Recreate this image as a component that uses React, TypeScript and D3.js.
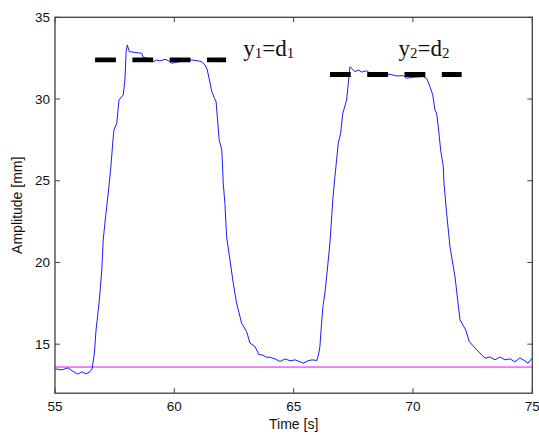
import React from "react";
import * as d3 from "d3";

const TIME = [
  55.0, 55.29, 55.54, 55.71, 55.96, 56.13, 56.3, 56.47, 56.56, 56.65, 56.72, 56.86, 56.96, 57.02, 57.12,
  57.23, 57.33, 57.43, 57.47, 57.59, 57.68, 57.86, 57.93, 57.98, 58.03, 58.11, 58.35, 58.63, 58.7, 58.85,
  58.98, 59.12, 59.26, 59.4, 59.61, 59.75, 59.89, 60.1, 60.38, 60.73, 61.01, 61.15, 61.29, 61.38, 61.47,
  61.57, 61.68, 61.75, 61.8, 61.88, 61.99, 62.05, 62.12, 62.19, 62.33, 62.47, 62.61, 62.82, 63.03, 63.17,
  63.38, 63.55, 63.67, 63.87, 64.01, 64.22, 64.43, 64.64, 64.85, 65.06, 65.27, 65.4, 65.6, 65.77, 65.97,
  66.04, 66.1, 66.17, 66.23, 66.31, 66.41, 66.52, 66.64, 66.73, 66.87, 66.97, 67.06, 67.22, 67.29, 67.36,
  67.43, 67.57, 67.7, 67.86, 68.06, 68.2, 68.62, 69.04, 69.32, 69.59, 69.74, 70.01, 70.43, 70.57, 70.71,
  70.83, 70.92, 70.99, 71.06, 71.16, 71.27, 71.3, 71.41, 71.55, 71.76, 71.97, 72.21, 72.36, 72.67, 73.02,
  73.23, 73.44, 73.65, 73.86, 74.07, 74.27, 74.48, 74.69, 74.82, 75.0,
];

const AMPLITUDE = [
  13.49, 13.43, 13.55, 13.37, 13.17, 13.31, 13.18, 13.31, 13.53, 14.45, 15.87, 17.71, 19.54, 21.38, 22.8,
  24.24, 25.66, 27.5, 28.11, 28.52, 29.94, 30.25, 31.17, 32.9, 33.31, 32.9, 32.85, 32.8, 32.55, 32.51,
  32.39, 32.28, 32.39, 32.33, 32.43, 32.35, 32.19, 32.25, 32.33, 32.39, 32.33, 32.28, 32.08, 31.78, 31.17,
  30.45, 30.05, 29.84, 28.92, 27.5, 26.88, 24.85, 23.62, 21.58, 20.16, 18.73, 17.51, 16.28, 15.77, 15.06,
  14.85, 14.35, 14.35, 14.2, 14.2, 14.1, 13.94, 14.1, 13.98, 14.04, 13.92, 13.84, 13.98, 14.04, 14.0,
  14.35, 14.85, 16.28, 17.34, 18.12, 19.54, 21.18, 23.83, 25.25, 27.29, 27.91, 29.13, 29.94, 30.96, 31.98,
  31.88, 31.67, 31.78, 31.65, 31.73, 31.57, 31.47, 31.51, 31.41, 31.43, 31.27, 31.33, 31.37, 31.27, 30.76,
  30.25, 29.33, 29.13, 28.31, 26.88, 25.86, 24.85, 23.01, 20.97, 19.13, 16.49, 15.87, 15.16, 14.65, 14.14,
  14.22, 14.04, 14.22, 14.04, 14.1, 13.92, 14.16, 13.98, 13.84, 14.16,
];

const BASELINE = 13.6;

// dashed level lines: [level, start time, end time]
const LEVELS = [
  { level: 32.4, t0: 56.68, t1: 62.17 },
  { level: 31.5, t0: 66.52, t1: 72.04 },
];

const LABELS = [
  { sub: "1", t: 62.89, a: 32.62 },
  { sub: "2", t: 69.39, a: 32.62 },
];

const X_TICKS = [55, 60, 65, 70, 75];
const Y_TICKS = [15, 20, 25, 30, 35];
const X_DOMAIN = [55, 75];
const Y_DOMAIN = [12, 35];

export default function App() {
  const W = 539;
  const H = 435;
  const left = 55;
  const right = 532.3;
  const top = 17.3;
  const bottom = 393.2;

  const x = d3.scaleLinear().domain(X_DOMAIN).range([left, right]);
  const y = d3.scaleLinear().domain(Y_DOMAIN).range([bottom, top]);

  const pts = TIME.map((t, i) => [t, AMPLITUDE[i]] as [number, number]);
  const line = d3
    .line<[number, number]>()
    .x((d) => x(d[0]))
    .y((d) => y(d[1]));

  const axisColor = "#404040";
  const tick = 5;
  const sans = "'Liberation Sans', Arial, sans-serif";
  const serif = "'Liberation Serif', 'DejaVu Serif', serif";

  return (
    <svg
      width={W}
      height={H}
      style={{ position: "absolute", left: 0, top: 0, background: "#fff" }}
    >
      <rect x={0} y={0} width={W} height={H} fill="#fff" />
      {/* baseline */}
      <line
        x1={x(X_DOMAIN[0])}
        x2={x(X_DOMAIN[1])}
        y1={y(BASELINE)}
        y2={y(BASELINE)}
        stroke="#ff00ff"
        strokeWidth={1}
      />
      {/* signal */}
      <path d={line(pts) || ""} fill="none" stroke="#1a1aff" strokeWidth={1} strokeLinejoin="round" />
      {/* dashed levels */}
      {LEVELS.map((l, i) => (
        <line
          key={i}
          x1={x(l.t0)}
          x2={x(l.t1)}
          y1={y(l.level)}
          y2={y(l.level)}
          stroke="#000"
          strokeWidth={4.8}
          strokeDasharray="20.8 16.5"
        />
      ))}
      {/* labels */}
      {LABELS.map((lb, i) => (
        <text key={i} x={x(lb.t)} y={y(lb.a)} fontFamily={serif} fontSize={23} fill="#111">
          y
          <tspan fontSize={15} dy={2}>
            {lb.sub}
          </tspan>
          <tspan dy={-2}>=d</tspan>
          <tspan fontSize={15} dy={2}>
            {lb.sub}
          </tspan>
        </text>
      ))}
      {/* frame */}
      <rect
        x={left}
        y={top}
        width={right - left}
        height={bottom - top}
        fill="none"
        stroke={axisColor}
        strokeWidth={1.3}
      />
      {/* x ticks */}
      {X_TICKS.map((t) => (
        <g key={"x" + t}>
          <line x1={x(t)} x2={x(t)} y1={bottom} y2={bottom - tick} stroke={axisColor} />
          <line x1={x(t)} x2={x(t)} y1={top} y2={top + tick} stroke={axisColor} />
          <text
            x={x(t)}
            y={bottom + 18}
            textAnchor="middle"
            fontFamily={sans}
            fontSize={13.5}
            fill="#111"
          >
            {t}
          </text>
        </g>
      ))}
      {/* y ticks */}
      {Y_TICKS.map((v) => (
        <g key={"y" + v}>
          <line x1={left} x2={left + tick} y1={y(v)} y2={y(v)} stroke={axisColor} />
          <line x1={right} x2={right - tick} y1={y(v)} y2={y(v)} stroke={axisColor} />
          <text
            x={left - 5}
            y={y(v)}
            dy="0.35em"
            textAnchor="end"
            fontFamily={sans}
            fontSize={13.5}
            fill="#111"
          >
            {v}
          </text>
        </g>
      ))}
      <text
        x={(left + right) / 2}
        y={429}
        textAnchor="middle"
        fontFamily={sans}
        fontSize={14}
        fill="#111"
      >
        Time [s]
      </text>
      <text
        transform={`translate(22, ${(top + bottom) / 2}) rotate(-90)`}
        textAnchor="middle"
        fontFamily={sans}
        fontSize={14}
        fill="#111"
      >
        Amplitude [mm]
      </text>
    </svg>
  );
}
